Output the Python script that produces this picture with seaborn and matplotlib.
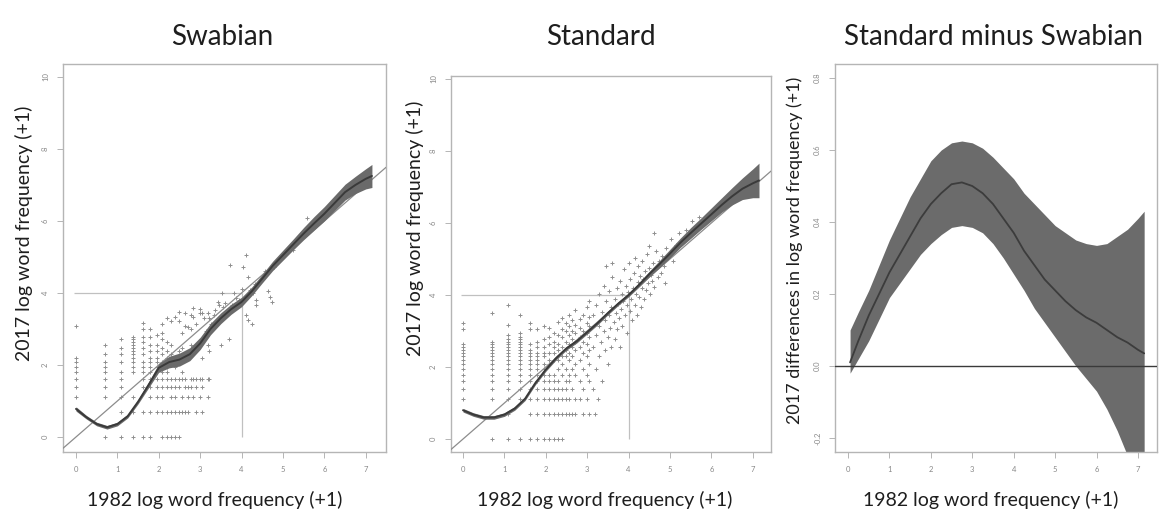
import matplotlib
matplotlib.use("Agg")
import matplotlib.pyplot as plt
import numpy as np
import pandas as pd
import seaborn as sns

# Word counts (1982 count, 2017 count); axes show log(count + 1)
swabian_points = [
    (0, 2), (0, 3), (0, 4), (0, 5), (0, 6), (0, 7), (0, 8), (0, 21),
    (1, 0), (1, 2), (1, 3), (1, 4), (1, 5), (1, 6), (1, 7), (1, 9), (1, 12),
    (2, 0), (2, 1), (2, 2), (2, 3), (2, 4), (2, 5), (2, 7), (2, 9), (2, 11), (2, 14),
    (3, 0), (3, 1), (3, 2), (3, 5), (3, 6), (3, 7), (3, 8), (3, 9), (3, 10), (3, 11),
    (3, 12), (3, 13), (3, 14), (3, 15),
    (4, 0), (4, 1), (4, 3), (4, 4), (4, 5), (4, 6), (4, 7), (4, 9), (4, 11), (4, 13),
    (4, 15), (4, 19), (4, 23),
    (5, 0), (5, 1), (5, 2), (5, 3), (5, 4), (5, 5), (5, 6), (5, 7), (5, 8), (5, 10),
    (5, 12), (5, 15), (5, 19),
    (6, 1), (6, 2), (6, 3), (6, 4), (6, 5), (6, 6), (6, 7), (6, 8), (6, 10), (6, 12), (6, 16),
    (7, 0), (7, 1), (7, 2), (7, 3), (7, 4), (7, 5), (7, 6), (7, 7), (7, 9), (7, 11),
    (7, 14), (7, 17), (7, 22),
    (8, 0), (8, 1), (8, 3), (8, 4), (8, 5), (8, 6), (8, 8), (8, 10), (8, 13), (8, 26),
    (9, 0), (9, 1), (9, 2), (9, 3), (9, 4), (9, 7), (9, 9), (9, 12), (9, 24),
    (10, 0), (10, 1), (10, 2), (10, 3), (10, 4), (10, 6), (10, 8), (10, 27),
    (11, 0), (11, 1), (11, 3), (11, 4), (11, 7), (11, 10), (11, 24), (11, 31),
    (12, 1), (12, 2), (12, 4), (12, 5), (12, 8), (12, 11), (12, 17),
    (13, 1), (13, 3), (13, 4), (13, 21), (13, 30),
    (14, 1), (14, 2), (14, 3), (14, 8), (14, 20),
    (15, 3), (15, 4), (15, 12), (15, 19), (15, 29),
    (16, 2), (16, 4), (16, 27), (16, 35),
    (17, 1), (17, 3), (17, 4), (17, 22),
    (19, 2), (19, 4), (19, 30), (19, 34),
    (20, 1), (20, 3), (20, 4), (20, 8), (20, 30),
    (21, 26), (22, 18), (23, 2), (23, 4), (23, 12), (23, 30), (24, 4), (24, 10), (24, 26),
    (25, 22), (27, 29), (27, 20), (28, 33), (30, 24), (30, 42), (31, 38), (32, 12),
    (33, 53), (34, 36), (35, 30), (36, 40), (39, 14), (40, 118), (42, 38), (44, 53),
    (47, 46), (50, 44), (54, 60), (56, 111), (60, 157), (60, 29), (63, 85), (63, 25),
    (66, 58), (69, 22), (71, 53), (74, 70), (77, 44), (77, 38), (85, 75), (95, 100),
    (103, 56), (108, 48), (112, 42), (120, 110), (140, 150), (160, 170), (190, 180),
    (230, 250), (262, 432), (300, 320),
]

standard_points = [
    (0, 2), (0, 3), (0, 4), (0, 5), (0, 6), (0, 7), (0, 8), (0, 9), (0, 10), (0, 11),
    (0, 12), (0, 13), (0, 20), (0, 24),
    (1, 0), (1, 2), (1, 3), (1, 4), (1, 5), (1, 6), (1, 7), (1, 8), (1, 9), (1, 10),
    (1, 11), (1, 12), (1, 13), (1, 14), (1, 32),
    (2, 0), (2, 1), (2, 2), (2, 3), (2, 4), (2, 5), (2, 6), (2, 7), (2, 8), (2, 9),
    (2, 10), (2, 11), (2, 12), (2, 13), (2, 14), (2, 15), (2, 17), (2, 23), (2, 40),
    (3, 0), (3, 2), (3, 3), (3, 4), (3, 5), (3, 6), (3, 7), (3, 8), (3, 9), (3, 10),
    (3, 11), (3, 12), (3, 13), (3, 14), (3, 15), (3, 16), (3, 18), (3, 30),
    (4, 0), (4, 1), (4, 2), (4, 3), (4, 4), (4, 5), (4, 6), (4, 7), (4, 8), (4, 9),
    (4, 10), (4, 11), (4, 13), (4, 20), (4, 24),
    (5, 0), (5, 1), (5, 2), (5, 3), (5, 4), (5, 5), (5, 6), (5, 7), (5, 8), (5, 9),
    (5, 10), (5, 12), (5, 14), (5, 20),
    (6, 0), (6, 1), (6, 2), (6, 3), (6, 4), (6, 5), (6, 6), (6, 7), (6, 9), (6, 10),
    (6, 12), (6, 15), (6, 22),
    (7, 0), (7, 1), (7, 2), (7, 3), (7, 4), (7, 5), (7, 7), (7, 8), (7, 10), (7, 13),
    (7, 16), (7, 21),
    (8, 0), (8, 1), (8, 2), (8, 3), (8, 4), (8, 5), (8, 8), (8, 10), (8, 12), (8, 14), (8, 18),
    (9, 0), (9, 1), (9, 2), (9, 3), (9, 4), (9, 6), (9, 8), (9, 11), (9, 13), (9, 17), (9, 25),
    (10, 0), (10, 1), (10, 2), (10, 3), (10, 5), (10, 7), (10, 9), (10, 12), (10, 16),
    (10, 20), (10, 28),
    (11, 1), (11, 2), (11, 3), (11, 4), (11, 6), (11, 9), (11, 11), (11, 14), (11, 19), (11, 24),
    (12, 1), (12, 2), (12, 4), (12, 5), (12, 8), (12, 10), (12, 13), (12, 17), (12, 22), (12, 30),
    (13, 1), (13, 3), (13, 6), (13, 9), (13, 12), (13, 15), (13, 19), (13, 26),
    (14, 1), (14, 2), (14, 5), (14, 7), (14, 11), (14, 14), (14, 18), (14, 23), (14, 35),
    (16, 2), (16, 4), (16, 8), (16, 12), (16, 16), (16, 21), (16, 27),
    (17, 1), (17, 3), (17, 6), (17, 10), (17, 14), (17, 19), (17, 30),
    (19, 2), (19, 5), (19, 9), (19, 13), (19, 18), (19, 24), (19, 38),
    (20, 1), (20, 4), (20, 7), (20, 11), (20, 16), (20, 22), (20, 29), (20, 45),
    (22, 3), (22, 12), (22, 30), (23, 1), (24, 6), (24, 17), (24, 40), (25, 2), (26, 9),
    (26, 22), (26, 55), (27, 14), (28, 4), (28, 33), (29, 19), (29, 70), (30, 11), (30, 26),
    (31, 45), (31, 120), (32, 7), (32, 16), (33, 30), (33, 60), (34, 21), (35, 12), (35, 38),
    (36, 90), (36, 130), (37, 25), (38, 15), (38, 48), (39, 32), (40, 20), (40, 65), (41, 42),
    (42, 28), (43, 12), (43, 80), (44, 36), (45, 55), (46, 22), (47, 45), (48, 110), (49, 30),
    (50, 70), (51, 40), (52, 18), (53, 58), (54, 130), (55, 34), (56, 85), (57, 48), (58, 26),
    (60, 66), (61, 100), (62, 40), (63, 150), (64, 55), (66, 30), (67, 78), (68, 120),
    (70, 50), (71, 92), (72, 38), (74, 66), (75, 140), (77, 84), (78, 48), (80, 105),
    (82, 62), (84, 170), (86, 75), (88, 115), (88, 210), (90, 55), (92, 95), (95, 80),
    (97, 130), (100, 68), (100, 300), (103, 110), (106, 185), (110, 90), (114, 140),
    (118, 100), (122, 160), (126, 120), (130, 75), (135, 200), (140, 150), (150, 260),
    (160, 140), (170, 220), (185, 300), (200, 260), (220, 330), (250, 420), (300, 480),
    (380, 450),
]

# Smooth fits (log scale)
fit_x = [0.0, 0.25, 0.5, 0.75, 1.0, 1.25, 1.5, 1.75, 2.0, 2.25, 2.5, 2.75, 3.0, 3.25, 3.5,
         3.75, 4.0, 4.25, 4.5, 4.75, 5.0, 5.25, 5.5, 5.75, 6.0, 6.25, 6.5, 6.75, 7.0, 7.15]
swabian_fit = [0.78, 0.55, 0.36, 0.27, 0.36, 0.58, 0.98, 1.44, 1.92, 2.08, 2.15, 2.3, 2.6,
               3.0, 3.3, 3.55, 3.75, 4.05, 4.4, 4.75, 5.05, 5.35, 5.65, 5.93, 6.2, 6.5,
               6.8, 7.0, 7.17, 7.25]
swabian_halfwidth = [0.06, 0.05, 0.05, 0.05, 0.05, 0.05, 0.06, 0.08, 0.12, 0.16, 0.18, 0.18,
                     0.17, 0.16, 0.15, 0.14, 0.13, 0.12, 0.12, 0.13, 0.14, 0.15, 0.17, 0.19,
                     0.2, 0.21, 0.22, 0.24, 0.28, 0.32]
standard_fit = [0.8, 0.68, 0.6, 0.6, 0.68, 0.85, 1.12, 1.56, 1.93, 2.25, 2.52, 2.72, 2.97,
                3.22, 3.5, 3.76, 4.0, 4.28, 4.58, 4.86, 5.15, 5.45, 5.72, 5.98, 6.24, 6.5,
                6.74, 6.95, 7.1, 7.18]
standard_halfwidth = [0.05, 0.05, 0.05, 0.05, 0.05, 0.05, 0.05, 0.05, 0.05, 0.05, 0.05, 0.05,
                      0.05, 0.05, 0.05, 0.05, 0.05, 0.06, 0.08, 0.1, 0.12, 0.13, 0.15, 0.16,
                      0.18, 0.2, 0.24, 0.3, 0.4, 0.48]

# Difference Standard minus Swabian
diff_x = [0.05, 0.25, 0.5, 0.75, 1.0, 1.25, 1.5, 1.75, 2.0, 2.25, 2.5, 2.75, 3.0, 3.25, 3.5,
          3.75, 4.0, 4.25, 4.5, 4.75, 5.0, 5.25, 5.5, 5.75, 6.0, 6.25, 6.5, 6.75, 7.0, 7.15]
diff_fit = [0.01, 0.07, 0.14, 0.2, 0.26, 0.31, 0.36, 0.41, 0.45, 0.48, 0.505, 0.51, 0.5, 0.48,
            0.45, 0.41, 0.37, 0.32, 0.28, 0.24, 0.21, 0.18, 0.155, 0.135, 0.12, 0.1, 0.08,
            0.065, 0.045, 0.035]
diff_upper = [0.1, 0.15, 0.21, 0.28, 0.35, 0.41, 0.47, 0.52, 0.57, 0.6, 0.62, 0.625, 0.62,
              0.605, 0.58, 0.55, 0.52, 0.48, 0.45, 0.42, 0.39, 0.37, 0.35, 0.34, 0.335, 0.34,
              0.36, 0.38, 0.41, 0.43]
diff_lower = [-0.02, 0.02, 0.07, 0.13, 0.19, 0.23, 0.27, 0.31, 0.34, 0.365, 0.385, 0.39, 0.385,
              0.37, 0.34, 0.3, 0.255, 0.21, 0.16, 0.12, 0.08, 0.04, 0.0, -0.035, -0.07, -0.12,
              -0.18, -0.25, -0.33, -0.38]

x_ticks = [0, 1, 2, 3, 4, 5, 6, 7]
freq_ticks = [0, 2, 4, 6, 8, 10]
diff_ticks = [-0.2, 0.0, 0.2, 0.4, 0.6, 0.8]
ref_level = 4

sns.set_style("white")
plt.rcParams["font.family"] = ["Lato", "DejaVu Sans"]

fig = plt.figure(figsize=(11.68, 5.17), dpi=100)
W, H = 1168, 517


def add_ax(left, top, right, bottom):
    return fig.add_axes([left / W, 1 - bottom / H, (right - left) / W, (bottom - top) / H])


def style(ax, xlim, ylim, yticks, ylabels):
    ax.set_xlim(*xlim)
    ax.set_ylim(*ylim)
    ax.set_xticks(x_ticks)
    ax.set_xticklabels([str(t) for t in x_ticks])
    ax.set_yticks(yticks)
    ax.set_yticklabels(ylabels, rotation=90, va="center")
    ax.tick_params(bottom=True, left=True, direction="out", length=4, width=0.6,
                   color="#aaaaaa", labelsize=5.5, labelcolor="#888888", pad=6)
    for s in ax.spines.values():
        s.set_color("#b5b5b5")
        s.set_linewidth(1.0)
    ax.set_xlabel("")
    ax.set_ylabel("")


def freq_panel(ax, points, fit, halfwidth):
    df = pd.DataFrame(points, columns=["n1982", "n2017"])
    df["x"] = np.log1p(df.n1982)
    df["y"] = np.log1p(df.n2017)
    sns.scatterplot(data=df, x="x", y="y", ax=ax, marker="+", s=10,
                    color="#8f8f8f", linewidth=0.7, zorder=2)
    ax.hlines(ref_level, -0.05, ref_level, color="#c0c0c0", lw=0.9, zorder=1)
    ax.vlines(ref_level, 0, ref_level, color="#c0c0c0", lw=0.9, zorder=1)
    ax.axline((0, 0), slope=1, color="#8c8c8c", lw=0.9, zorder=3)
    fx = np.array(fit_x)
    fy = np.array(fit)
    hw = np.array(halfwidth)
    ax.fill_between(fx, fy - hw, fy + hw, color="#6a6a6a", lw=0, zorder=4)
    sns.lineplot(x=fx, y=fy, ax=ax, color="#3a3a3a", lw=1.4, zorder=5)


ax1 = add_ax(63, 64, 386, 452)
freq_panel(ax1, swabian_points, swabian_fit, swabian_halfwidth)
style(ax1, (-0.314, 7.49), (-0.417, 10.36), freq_ticks, [str(t) for t in freq_ticks])

ax2 = add_ax(451, 76, 771, 452)
freq_panel(ax2, standard_points, standard_fit, standard_halfwidth)
style(ax2, (-0.29, 7.44), (-0.36, 10.08), freq_ticks, [str(t) for t in freq_ticks])

ax3 = add_ax(835, 64, 1157, 452)
ax3.fill_between(diff_x, diff_lower, diff_upper, color="#6b6b6b", lw=0, zorder=2)
sns.lineplot(x=diff_x, y=diff_fit, ax=ax3, color="#3c3c3c", lw=1.3, zorder=3)
ax3.axhline(0, color="#3a3a3a", lw=1.0, zorder=4)
style(ax3, (-0.314, 7.46), (-0.239, 0.839), diff_ticks, [f"{t:.1f}" for t in diff_ticks])

# Titles and axis labels
title_kw = dict(ha="center", va="center", fontsize=20, color="#1e1e1e")
fig.text(222 / W, 1 - 37 / H, "Swabian", **title_kw)
fig.text(601 / W, 1 - 37 / H, "Standard", **title_kw)
fig.text(993 / W, 1 - 37 / H, "Standard minus Swabian", **title_kw)

lab_kw = dict(ha="center", va="center", fontsize=14, color="#1e1e1e")
fig.text(215 / W, 1 - 500 / H, "1982 log word frequency (+1)", **lab_kw)
fig.text(605 / W, 1 - 500 / H, "1982 log word frequency (+1)", **lab_kw)
fig.text(991 / W, 1 - 500 / H, "1982 log word frequency (+1)", **lab_kw)
fig.text(24 / W, 1 - 233 / H, "2017 log word frequency (+1)", rotation=90, **lab_kw)
fig.text(415 / W, 1 - 228 / H, "2017 log word frequency (+1)", rotation=90, **lab_kw)
fig.text(795 / W, 1 - 250 / H, "2017 differences in log word frequency (+1)",
         rotation=90, ha="center", va="center", fontsize=13, color="#1e1e1e")

fig.savefig("out.png", dpi=100)
